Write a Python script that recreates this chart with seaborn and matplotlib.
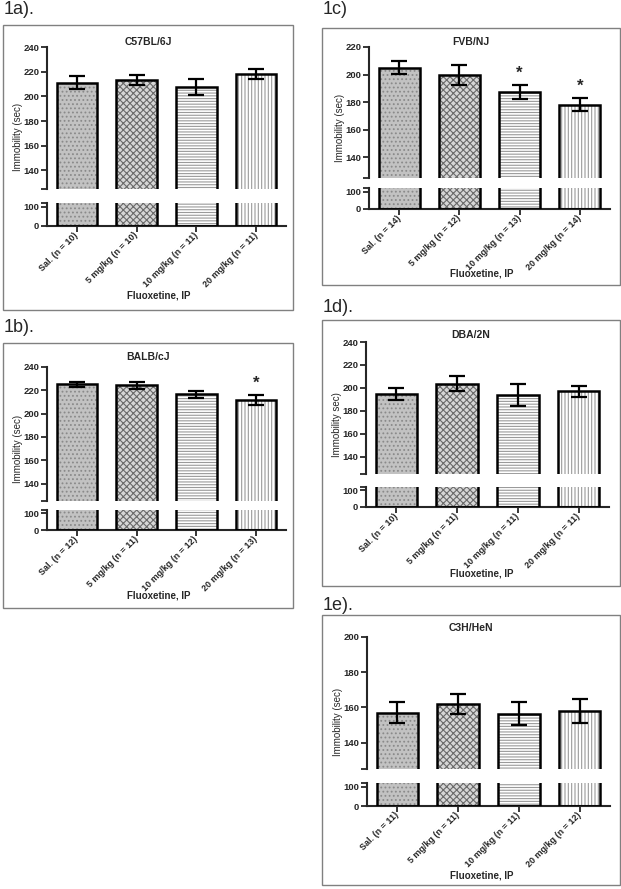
import matplotlib
matplotlib.use("Agg")
import matplotlib.pyplot as plt
from matplotlib.patches import Rectangle
import pandas as pd
import seaborn as sns

# =========================
# DATA
# =========================
doses = ["Sal.", "5 mg/kg", "10 mg/kg", "20 mg/kg"]

c57_mean = [211.0, 213.5, 207.5, 218.0]
c57_sem = [5.2, 4.0, 6.6, 4.0]
c57_n = [10, 10, 11, 11]
c57_star = [False, False, False, False]

balb_mean = [225.0, 224.3, 216.8, 212.0]
balb_sem = [2.0, 3.0, 3.0, 4.2]
balb_n = [12, 11, 12, 13]
balb_star = [False, False, False, True]

fvb_mean = [205.0, 199.7, 187.5, 178.3]
fvb_sem = [4.5, 7.0, 5.0, 5.0]
fvb_n = [14, 12, 13, 14]
fvb_star = [False, False, True, True]

dba_mean = [194.5, 203.8, 193.8, 197.0]
dba_sem = [5.0, 6.7, 9.5, 4.6]
dba_n = [10, 11, 11, 11]
dba_star = [False, False, False, False]

c3h_mean = [157.0, 161.8, 156.5, 158.0]
c3h_sem = [6.0, 5.7, 6.5, 6.6]
c3h_n = [11, 11, 11, 12]
c3h_star = [False, False, False, False]

# =========================
# STYLE
# =========================
sns.set_style("ticks")
plt.rcParams["font.family"] = ["Liberation Sans", "DejaVu Sans"]
plt.rcParams["font.weight"] = "bold"
plt.rcParams["hatch.linewidth"] = 0.8

W, H = 621, 889
fig = plt.figure(figsize=(W / 100, H / 100), dpi=100)

# fill of the four groups
faces = ["#c2c2c2", "#d6d6d6", "white", "white"]
hatch_cols = ["#8a8a8a", "#6a6a6a", "#9a9a9a", "#9a9a9a"]
hatches = ["....", "xxxxx", "------", "|||||"]


def rect(l, r, top, bottom):
    return [l / W, 1 - bottom / H, (r - l) / W, (bottom - top) / H]


def panel(tag, title, ylab, means, sems, ns, stars, ytop, lay):
    bx0, by0, bx1, by1 = lay["box"]
    sx, rx = lay["x"]
    ut, ub = lay["up"]
    lt, lb = lay["low"]

    # frame + texts
    fig.add_artist(Rectangle((bx0 / W, 1 - by1 / H), (bx1 - bx0) / W, (by1 - by0) / H,
                             transform=fig.transFigure, fill=False,
                             edgecolor="#808080", lw=1.0))
    fig.text(lay["tag"][0] / W, 1 - lay["tag"][1] / H, tag, fontsize=13,
             fontweight="normal", ha="left", va="center")
    fig.text((bx0 + bx1) / 2 / W, 1 - lay["title"] / H, title, fontsize=7.5,
             ha="center", va="center")
    fig.text(((bx0 + bx1) / 2 + 11) / W, 1 - lay["xlab"] / H, "Fluoxetine, IP",
             fontsize=7, ha="center", va="center")
    fig.text((sx - 29) / W, 1 - (ut + lb) / 2 / H, ylab, fontsize=7,
             fontweight="normal", rotation=90, ha="center", va="center")

    df = pd.DataFrame({"group": [f"{d} (n = {n})" for d, n in zip(doses, ns)],
                       "mean": means})

    ax_up = fig.add_axes(rect(sx, rx, ut, ub))
    ax_lo = fig.add_axes(rect(sx, rx, lt, lb))
    for ax in (ax_up, ax_lo):
        sns.barplot(data=df, x="group", y="mean", ax=ax, color="white",
                    width=0.68, errorbar=None, saturation=1)
        for p, fc, hc, h in zip(list(ax.patches), faces, hatch_cols, hatches):
            p.set_facecolor(fc)
            p.set_edgecolor(hc)
            p.set_linewidth(0)
            p.set_hatch(h)
            ax.add_patch(Rectangle((p.get_x(), p.get_y()), p.get_width(), p.get_height(),
                                   fill=False, edgecolor="black", lw=1.8, zorder=3))
        ax.set_xlim(-0.5, 3.5)
        ax.set_xlabel("")
        ax.set_ylabel("")
        for s in ["top", "right"]:
            ax.spines[s].set_visible(False)
        for s in ["left", "bottom"]:
            ax.spines[s].set_linewidth(1.5)
        ax.tick_params(length=4, width=1.3, labelsize=6.8, pad=1.5)

    # upper part of the broken axis
    ax_up.set_ylim(125, ytop)
    ax_up.spines["bottom"].set_visible(False)
    ax_up.tick_params(axis="x", bottom=False, labelbottom=False)
    up_ticks = [125] + list(range(140, ytop + 1, 20))
    ax_up.set_yticks(up_ticks)
    ax_up.set_yticklabels([""] + [str(t) for t in up_ticks[1:]])
    ax_up.errorbar(range(4), means, yerr=sems, fmt="none", ecolor="black",
                   elinewidth=1.6, capsize=6, capthick=1.6, zorder=4)
    for i, st in enumerate(stars):
        if st:
            ax_up.annotate("*", (i, means[i] + sems[i]), xytext=(0, 3),
                           textcoords="offset points", ha="center", va="bottom",
                           fontsize=12, annotation_clip=False)

    # lower part
    ax_lo.set_ylim(0, 120)
    ax_lo.set_yticks([0, 100, 120])
    ax_lo.set_yticklabels(["0", "100", ""])
    ax_lo.set_xticks(range(4))
    ax_lo.set_xticklabels(df["group"], rotation=45, ha="right", va="center",
                          rotation_mode="anchor", fontsize=6.5)


panel("1a).", "C57BL/6J", "Immobility (sec)", c57_mean, c57_sem, c57_n, c57_star, 240,
      dict(box=(3, 25, 293, 310), x=(47, 286), up=(47, 189), low=(203, 226),
           title=42, xlab=296, tag=(4, 10)))
panel("1b).", "BALB/cJ", "Immobility (sec)", balb_mean, balb_sem, balb_n, balb_star, 240,
      dict(box=(3, 343, 293, 608), x=(47, 286), up=(367, 501), low=(510, 530),
           title=357, xlab=595, tag=(4, 328)))
panel("1c)", "FVB/NJ", "Immobility (sec)", fvb_mean, fvb_sem, fvb_n, fvb_star, 220,
      dict(box=(322, 28, 620, 285), x=(369, 610), up=(47, 178), low=(188, 209),
           title=42, xlab=273, tag=(323, 10)))
panel("1d).", "DBA/2N", "Immobility sec)", dba_mean, dba_sem, dba_n, dba_star, 240,
      dict(box=(322, 320, 620, 586), x=(366, 609), up=(342, 474), low=(487, 507),
           title=335, xlab=574, tag=(323, 307)))
panel("1e).", "C3H/HeN", "Immobility (sec)", c3h_mean, c3h_sem, c3h_n, c3h_star, 200,
      dict(box=(322, 615, 620, 885), x=(367, 610), up=(637, 769), low=(783, 806),
           title=628, xlab=875, tag=(323, 605)))

fig.savefig("out.png", dpi=100)
plt.close(fig)
